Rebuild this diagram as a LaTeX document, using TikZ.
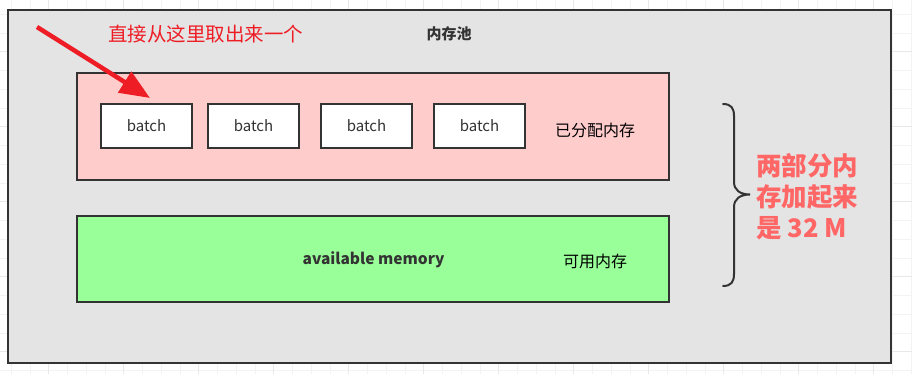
\documentclass[tikz,border=0pt]{standalone}
\usepackage{fontspec}
\setmainfont{Noto Sans CJK SC}
\usetikzlibrary{arrows.meta}
\definecolor{poolfill}{HTML}{E4E4E4}
\definecolor{edge}{HTML}{333333}
\definecolor{pinkfill}{HTML}{FFCCCC}
\definecolor{greenfill}{HTML}{99FF99}
\definecolor{redarrow}{HTML}{EE1C24}
\definecolor{salmon}{HTML}{FF6666}
\definecolor{gridminor}{HTML}{F3F3F3}
\definecolor{gridmajor}{HTML}{E8E8E8}
\tikzset{
  box/.style={draw=edge, line width=2pt, inner sep=0pt, outer sep=0pt},
  batchbox/.style={box, fill=white, minimum width=91pt, minimum height=44pt,
    font=\fontsize{15}{18}\selectfont, text=edge},
  lbl/.style={inner sep=0pt, text=black, font=\fontsize{16}{19}\selectfont},
}
\begin{document}
\begin{tikzpicture}[x=1pt,y=-1pt]
\useasboundingbox (0,0) rectangle (912,374);
\fill[white] (0,0) rectangle (912,374);
% faint grid
\foreach \i in {0,...,49} {
  \draw[gridminor, line width=0.8pt] ({-7.55+\i*18.75},0) -- ({-7.55+\i*18.75},374);
}
\foreach \i in {0,...,20} {
  \draw[gridminor, line width=0.8pt] (0,{-4.55+\i*18.75}) -- (912,{-4.55+\i*18.75});
}
\foreach \i in {0,...,12} {
  \draw[gridmajor, line width=0.8pt] ({48.7+\i*75-75},0) -- ({48.7+\i*75-75},374);
}
\foreach \i in {0,...,5} {
  \draw[gridmajor, line width=0.8pt] (0,{-23.3+\i*75}) -- (912,{-23.3+\i*75});
}
% pool
\node[box, fill=poolfill, minimum width=883pt, minimum height=353pt, anchor=north west] (pool) at (8,10) {};
\node[lbl, font=\fontsize{15}{18}\selectfont\bfseries, text=edge] (pooltitle) at (449,34) {内存池};
% allocated
\node[box, fill=pinkfill, minimum width=592pt, minimum height=107pt, anchor=north west] (alloc) at (77,73) {};
\node[batchbox] (b1) at (146.5,126) {batch};
\node[batchbox] (b2) at (253.5,126) {batch};
\node[batchbox] (b3) at (366.5,126) {batch};
\node[batchbox] (b4) at (479.5,126) {batch};
\node[lbl] (alloclbl) at (595,130) {已分配内存};
% available
\node[box, fill=greenfill, minimum width=592pt, minimum height=86pt, anchor=north west] (avail) at (77,216) {};
\node[lbl, font=\fontsize{15.5}{18}\selectfont\bfseries, text=edge] (availtxt) at (373.5,260) {available memory};
\node[lbl] (availlbl) at (595,261) {可用内存};
% red note + arrow
\node[lbl, text=redarrow, font=\fontsize{19.5}{22}\selectfont] (note) at (205.5,34) {直接从这里取出来一个};
\coordinate (arrowstart) at (37,27);
\coordinate (arrowtip) at ([xshift=3.5pt,yshift=6pt]b1.north);
\draw[redarrow, line width=4.5pt, -{Triangle[length=30pt,width=24pt]}] (arrowstart) -- (arrowtip);
% brace
\coordinate (bt) at (723,104);
\coordinate (bb) at (723,286);
\coordinate (btip) at (750,194.5);
\draw[edge, line width=2pt, line cap=round]
  (bt) .. controls (731,104) and (734,108) .. (734,116)
  -- (734,182) .. controls (734,190) and (740,194.5) .. (btip)
  .. controls (740,194.5) and (734,199) .. (734,207)
  -- (734,274) .. controls (734,282) and (731,286) .. (bb);
\node[inner sep=0pt, anchor=west, align=left, text=salmon,
  font=\fontsize{25.5}{31}\selectfont\bfseries] (sum) at (756,197) {两部分内\\存加起来\\是 32 M};
\end{tikzpicture}
\end{document}
